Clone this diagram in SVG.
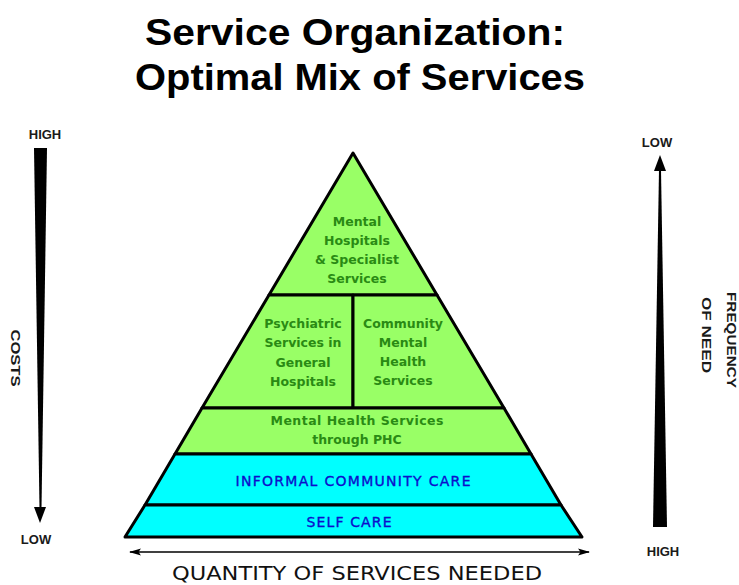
<svg xmlns="http://www.w3.org/2000/svg" width="739" height="585" viewBox="0 0 739 585">
  <style>
    .title { font-family: "Liberation Sans", Arial, sans-serif; font-weight: bold; font-size: 37px; fill: #000; text-anchor: middle; }
    .axis { font-family: "Liberation Sans", Arial, sans-serif; font-weight: bold; font-size: 13px; fill: #1a1a1a; text-anchor: middle; }
    .green { font-family: "DejaVu Sans", Verdana, sans-serif; font-weight: bold; font-size: 12.5px; fill: #2a8a14; text-anchor: middle; }
    .blue { font-family: "DejaVu Sans", Verdana, sans-serif; font-size: 14px; fill: #0d0dcc; text-anchor: middle; stroke: #0d0dcc; stroke-width: 0.35; }
    .qty { font-family: "DejaVu Sans", Verdana, sans-serif; font-size: 20px; fill: #111; text-anchor: middle; }
    .lvl { stroke: #000; stroke-width: 3; stroke-linejoin: round; }
    .g { fill: #99ff66; }
    .c { fill: #00ffff; }
  </style>
  <defs>
    <marker id="head" viewBox="0 0 12 10" refX="11" refY="5" markerWidth="12" markerHeight="10" markerUnits="userSpaceOnUse" orient="auto-start-reverse">
      <path d="M0,1.5 L12,5 L0,8.5 L2.5,5 Z" fill="#000"/>
    </marker>
  </defs>

  <!-- heading -->
  <text class="title" x="355" y="45" textLength="420" lengthAdjust="spacingAndGlyphs">Service Organization:</text>
  <text class="title" x="360" y="90" textLength="450" lengthAdjust="spacingAndGlyphs">Optimal Mix of Services</text>

  <!-- pyramid levels -->
  <g id="specialist">
    <polygon class="lvl g" points="353,153 437,295 269,295"/>
    <text class="green" x="357" y="226">Mental</text>
    <text class="green" x="357" y="245">Hospitals</text>
    <text class="green" x="357" y="264">&amp; Specialist</text>
    <text class="green" x="357" y="283">Services</text>
  </g>
  <g id="general-hospitals">
    <polygon class="lvl g" points="269,295 353,295 353,408 202,408"/>
    <text class="green" x="303" y="328">Psychiatric</text>
    <text class="green" x="303" y="347">Services in</text>
    <text class="green" x="303" y="367">General</text>
    <text class="green" x="303" y="386">Hospitals</text>
  </g>
  <g id="community-mh">
    <polygon class="lvl g" points="353,295 437,295 504,408 353,408"/>
    <text class="green" x="403" y="328">Community</text>
    <text class="green" x="403" y="347">Mental</text>
    <text class="green" x="403" y="366">Health</text>
    <text class="green" x="403" y="385">Services</text>
  </g>
  <g id="phc">
    <polygon class="lvl g" points="202,408 504,408 531,454 175,454"/>
    <text class="green" x="357" y="425" textLength="173" lengthAdjust="spacing">Mental Health Services</text>
    <text class="green" x="357" y="444">through PHC</text>
  </g>
  <g id="informal-care">
    <polygon class="lvl c" points="175,454 531,454 561,505 145,505"/>
    <text class="blue" x="353" y="486" textLength="235" lengthAdjust="spacing">INFORMAL COMMUNITY CARE</text>
  </g>
  <g id="self-care">
    <polygon class="lvl c" points="145,505 561,505 582,537 125,537"/>
    <text class="blue" x="349" y="527" textLength="85" lengthAdjust="spacing">SELF CARE</text>
  </g>

  <!-- costs axis -->
  <g id="costs">
    <text class="axis" x="45" y="139">HIGH</text>
    <polygon points="34,148 47,148 41.5,508 39.5,508" fill="#000"/>
    <polygon points="34,507 46,507 40,523" fill="#000"/>
    <text class="axis" x="36" y="544">LOW</text>
    <text class="axis" transform="translate(11,358) rotate(90)" textLength="57" lengthAdjust="spacingAndGlyphs">COSTS</text>
  </g>

  <!-- frequency axis -->
  <g id="frequency">
    <text class="axis" x="657" y="147">LOW</text>
    <polygon points="654,171 666,171 660,155" fill="#000"/>
    <polygon points="653,527 667,527 661,170 659,170" fill="#000"/>
    <text class="axis" x="663" y="556">HIGH</text>
    <text class="axis" transform="translate(727,340) rotate(90)" textLength="96" lengthAdjust="spacingAndGlyphs">FREQUENCY</text>
    <text class="axis" transform="translate(702,335) rotate(90)" textLength="76" lengthAdjust="spacingAndGlyphs">OF NEED</text>
  </g>

  <!-- quantity axis -->
  <g id="connectors">
    <line x1="130" y1="552" x2="589" y2="552" stroke="#000" stroke-width="1.5" marker-start="url(#head)" marker-end="url(#head)"/>
  </g>
  <text class="qty" x="357" y="580" textLength="370" lengthAdjust="spacingAndGlyphs">QUANTITY OF SERVICES NEEDED</text>
</svg>
